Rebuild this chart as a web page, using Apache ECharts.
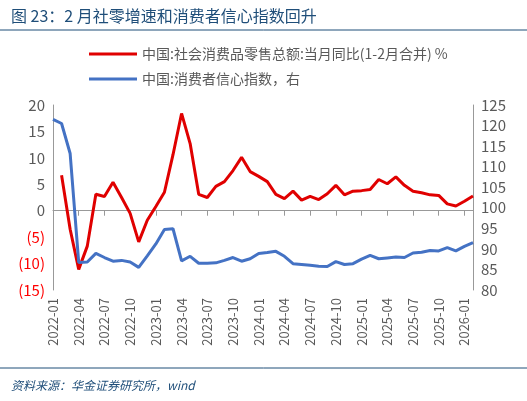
<!DOCTYPE html><html><head><meta charset="utf-8"><script src="https://cdn.jsdelivr.net/npm/echarts@6/dist/echarts.min.js"></script>
<style>body{margin:0}#c{width:527px;height:401px}</style></head><body><div id="c"></div><script>
const months=[];for(let y=2022;y<=2026;y++)for(let m=1;m<=12;m++){if(y==2026&&m>2)break;months.push(y+'-'+String(m).padStart(2,'0'));}
const retail=[null,6.7,-3.5,-11.1,-6.7,3.1,2.7,5.4,2.5,-0.5,-5.9,-1.8,
0.8,3.5,10.6,18.4,12.7,3.1,2.5,4.6,5.5,7.6,10.1,7.4,
6.5,5.5,3.1,2.3,3.7,2.0,2.7,2.1,3.2,4.8,3.0,3.7,
3.8,4.0,5.9,5.1,6.4,4.8,3.7,3.4,3.0,2.9,1.3,0.9,
1.8,2.8];
const confidence=[121.5,120.5,113.2,86.7,86.8,88.9,87.9,87.0,87.2,86.8,85.5,88.3,
91.2,94.7,94.9,87.1,88.2,86.5,86.5,86.6,87.2,87.9,87.0,87.6,
88.9,89.1,89.4,88.2,86.4,86.2,86.0,85.8,85.7,86.9,86.2,86.4,
87.5,88.4,87.6,87.8,88.0,87.9,89.0,89.2,89.6,89.5,90.3,89.5,
90.6,91.5];
const c=echarts.init(document.getElementById('c'));
const f='"Noto Sans CJK SC","Liberation Sans",sans-serif';
c.setOption({
animation:false,
title:[{text:'图 23：2 月社零增速和消费者信心指数回升',left:6,top:3,textStyle:{fontSize:16,fontWeight:'normal',color:'#1F4E79',fontFamily:f}},
{text:'资料来源：华金证券研究所，wind',left:6,top:374,textStyle:{fontSize:12,fontWeight:'normal',fontStyle:'italic',color:'#1F4E79',fontFamily:f}}],
graphic:[{type:'line',shape:{x1:0,y1:30,x2:527,y2:30},style:{stroke:'#1F4E79',lineWidth:1}},
{type:'line',shape:{x1:0,y1:368,x2:527,y2:368},style:{stroke:'#1F4E79',lineWidth:1}}],
legend:{orient:'vertical',left:84,top:42,itemGap:11,itemWidth:48,itemHeight:3,icon:'rect',textStyle:{fontSize:14,color:'#595959',fontFamily:f},
data:['中国:社会消费品零售总额:当月同比(1-2月合并) %','中国:消费者信心指数，右']},
grid:{left:53,right:54,top:105,bottom:111},
xAxis:[{type:'category',data:months,boundaryGap:false,axisLine:{onZero:true,lineStyle:{color:'#999'}},axisTick:{interval:2,length:5,lineStyle:{color:'#999'}},axisLabel:{show:false}},
{type:'category',data:months,boundaryGap:false,position:'bottom',axisLine:{show:false},axisTick:{show:false},axisLabel:{interval:2,rotate:90,color:'#595959',fontSize:13,fontFamily:f}}],
yAxis:[{type:'value',min:-15,max:20,interval:5,splitLine:{show:false},axisLine:{show:true,lineStyle:{color:'#999'}},axisLabel:{fontSize:15,fontFamily:f,color:v=>v<0?'#FF0000':'#595959',formatter:v=>v<0?'('+(-v)+')':String(v)}},
{type:'value',min:80,max:125,interval:5,splitLine:{show:false},axisLine:{show:true,lineStyle:{color:'#999'}},axisLabel:{fontSize:15,fontFamily:f,color:'#595959'}}],
series:[{name:'中国:社会消费品零售总额:当月同比(1-2月合并) %',type:'line',data:retail,showSymbol:false,lineStyle:{color:'#E00000',width:3},itemStyle:{color:'#E00000'}},
{name:'中国:消费者信心指数，右',type:'line',yAxisIndex:1,data:confidence,showSymbol:false,lineStyle:{color:'#4472C4',width:3},itemStyle:{color:'#4472C4'}}]
});
</script></body></html>
